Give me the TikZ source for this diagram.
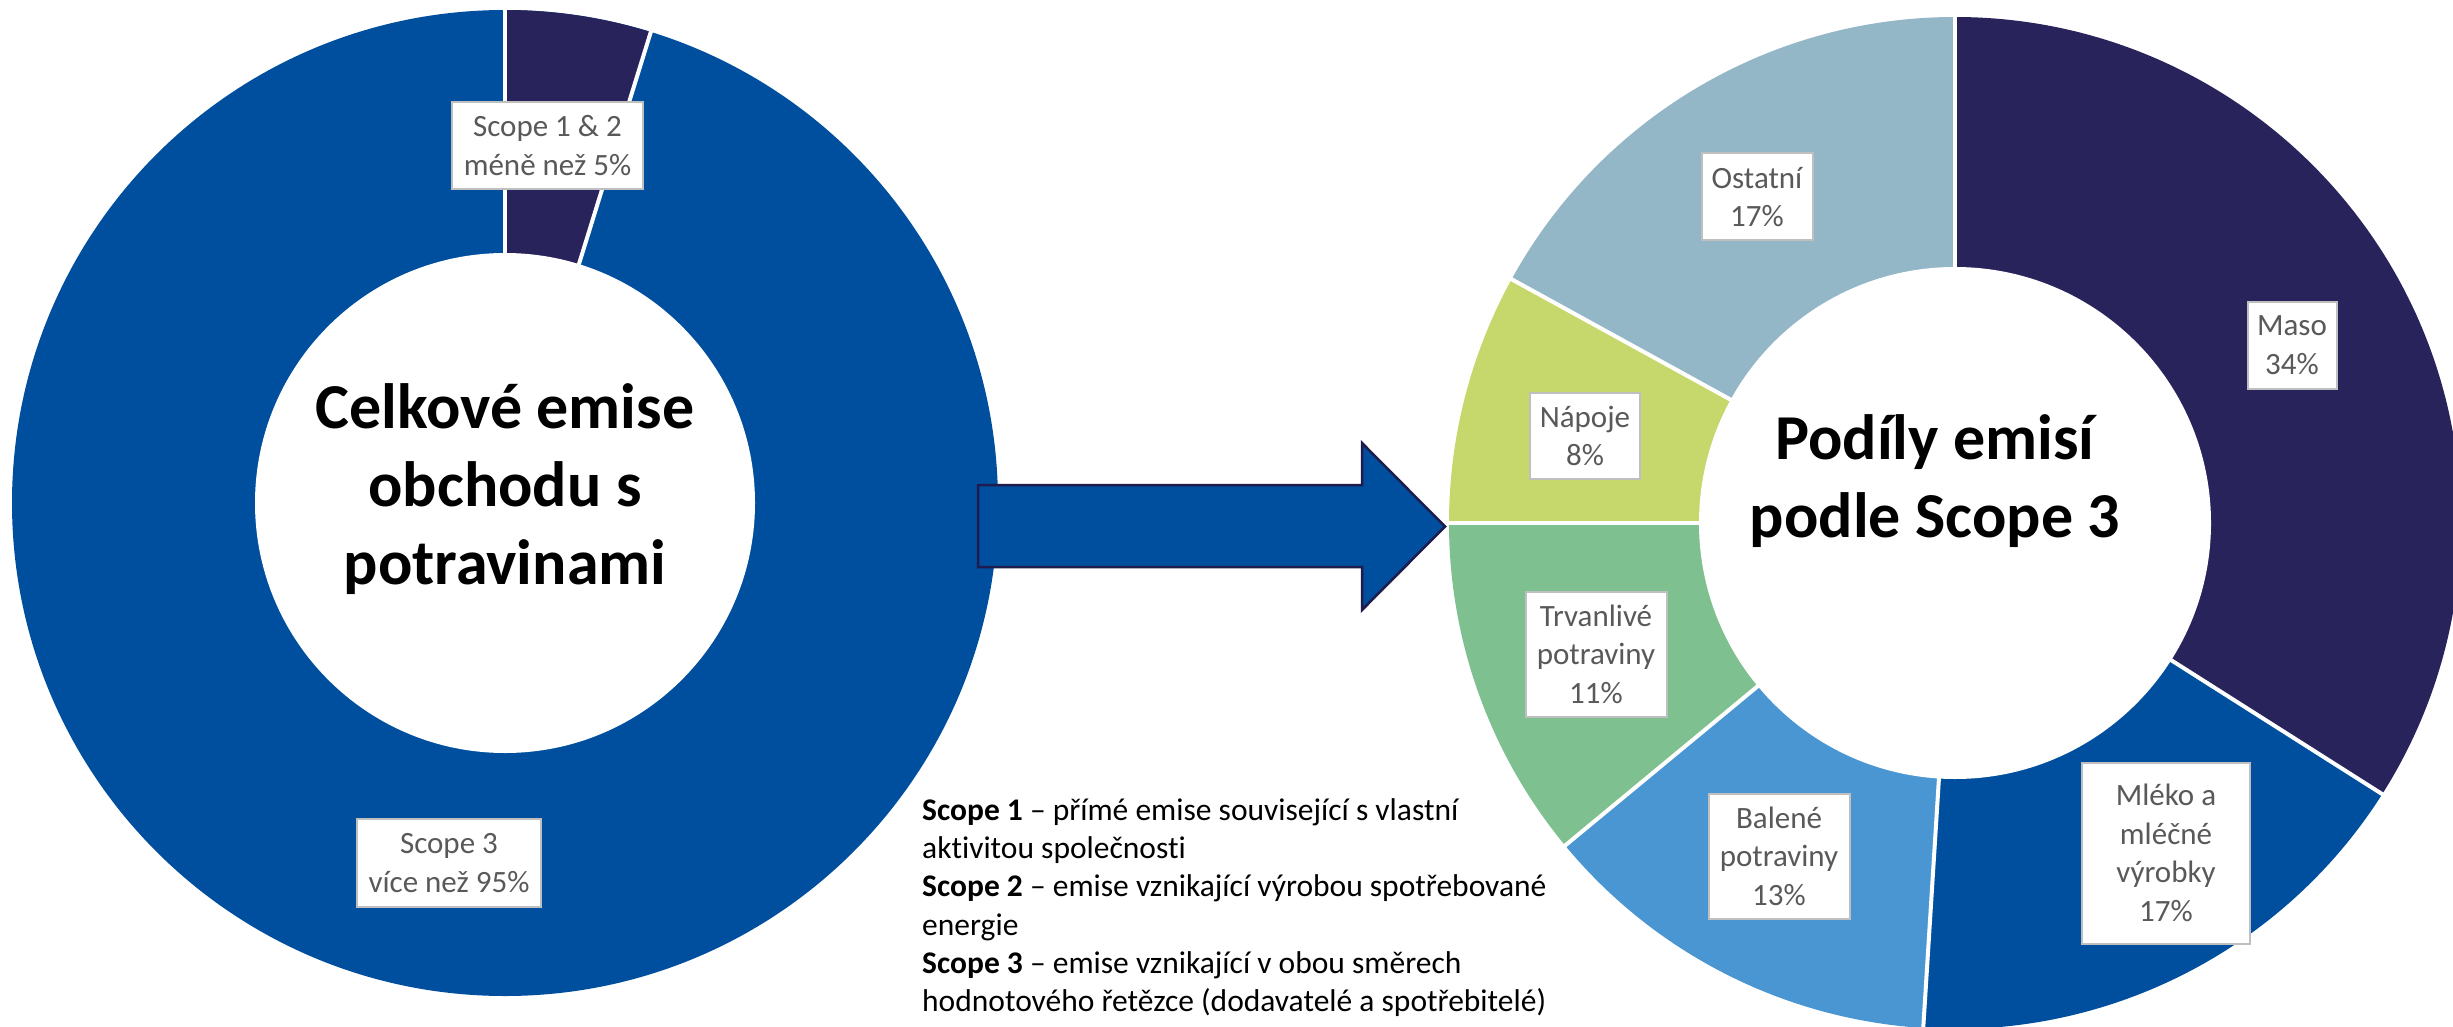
\documentclass[tikz,border=0pt]{standalone}
\usepackage{fontspec}
\setmainfont{Carlito}[Ligatures={NoCommon}]
\definecolor{blueM}{RGB}{0,79,159}
\definecolor{navy}{RGB}{41,35,92}
\definecolor{ostc}{RGB}{148,183,199}
\definecolor{napc}{RGB}{198,215,107}
\definecolor{trvc}{RGB}{127,192,144}
\definecolor{balc}{RGB}{74,150,210}
\definecolor{lbltext}{RGB}{89,89,89}
\definecolor{lblborder}{RGB}{191,191,191}
\definecolor{arrowborder}{RGB}{30,27,77}
\begin{document}
\begin{tikzpicture}[x=1pt,y=-1pt,
  lbl/.style={draw=lblborder, line width=2pt, fill=white, text=lbltext,
    font=\fontsize{31}{38.5}\selectfont, align=center, inner sep=0pt},
  sepline/.style={white, line width=4pt},
  title/.style={font=\bfseries\fontsize{64}{78}\selectfont, align=center, text=black}]
\useasboundingbox (0,0) rectangle (2453,1027);
\clip (0,0) rectangle (2453,1027);
\fill[white] (0,0) rectangle (2453,1027);

% ---------- left donut ----------
\coordinate (L) at (505,503);
\fill[blueM] (L) circle[radius=493];
\fill[navy] (L) -- ++(-90:493) arc[start angle=-90, end angle=-72.8, radius=493] -- cycle;
\draw[sepline] (L) -- ++(-90:496);
\draw[sepline] (L) -- ++(-72.8:496);
\fill[white] (L) circle[radius=250];

% ---------- right donut ----------
\coordinate (R) at (1955,523);
\fill[navy] (R) -- ++(-90:506) arc[start angle=-90, end angle=32.4, radius=506] -- cycle;
\fill[blueM] (R) -- ++(32.4:506) arc[start angle=32.4, end angle=93.6, radius=506] -- cycle;
\fill[balc] (R) -- ++(93.6:506) arc[start angle=93.6, end angle=140.4, radius=506] -- cycle;
\fill[trvc] (R) -- ++(140.4:506) arc[start angle=140.4, end angle=180, radius=506] -- cycle;
\fill[napc] (R) -- ++(180:506) arc[start angle=180, end angle=208.8, radius=506] -- cycle;
\fill[ostc] (R) -- ++(208.8:506) arc[start angle=208.8, end angle=270, radius=506] -- cycle;
\foreach \a in {-90,32.4,93.6,140.4,180,208.8}
  \draw[sepline] (R) -- ++(\a:509);
\fill[white] (R) circle[radius=256];

% ---------- arrow ----------
\draw[fill=blueM, draw=arrowborder, line width=2.5pt, line join=miter]
  (978,485) -- (1362,485) -- (1362,443) -- (1445,526.5) -- (1362,610)
  -- (1362,567) -- (978,567) -- cycle;

% ---------- titles ----------
\node[title] (t1) at (505,489) {Celkové emise\\obchodu s\\potravinami};
\node[title] (t2) at (1935,481) {Podíly emisí\\podle Scope 3};

% ---------- labels ----------
\node[lbl, minimum width=191, minimum height=87] (s12) at (547.5,145.5) {Scope 1 \& 2\\méně než 5\%};
\node[lbl, minimum width=184, minimum height=88] (s3) at (449,863) {Scope 3\\více než 95\%};
\node[lbl, minimum width=111, minimum height=87] (ost) at (1757,197) {Ostatní\\17\%};
\node[lbl, minimum width=89, minimum height=87] (maso) at (2292,345) {Maso\\34\%};
\node[lbl, minimum width=110, minimum height=86] (nap) at (1585,436) {Nápoje\\8\%};
\node[lbl, minimum width=141, minimum height=125] (trv) at (1596,654) {Trvanlivé\\potraviny\\11\%};
\node[lbl, minimum width=141, minimum height=125] (bal) at (1779,856) {Balené\\potraviny\\13\%};
\node[lbl, minimum width=168, minimum height=181] (mleko) at (2166,853) {Mléko a\\mléčné\\výrobky\\17\%};

% ---------- legend ----------
\node[anchor=north west, inner sep=0pt, align=left, text=black,
  font=\fontsize{31.5}{38.3}\selectfont] (legend) at (922,792)
  {\rule{0pt}{28pt}\textbf{Scope 1} – přímé emise související s vlastní\\
   aktivitou společnosti\\
   \textbf{Scope 2} – emise vznikající výrobou spotřebované\\
   energie\\
   \textbf{Scope 3} – emise vznikající v obou směrech\\
   hodnotového řetězce (dodavatelé a spotřebitelé)};
\end{tikzpicture}
\end{document}
